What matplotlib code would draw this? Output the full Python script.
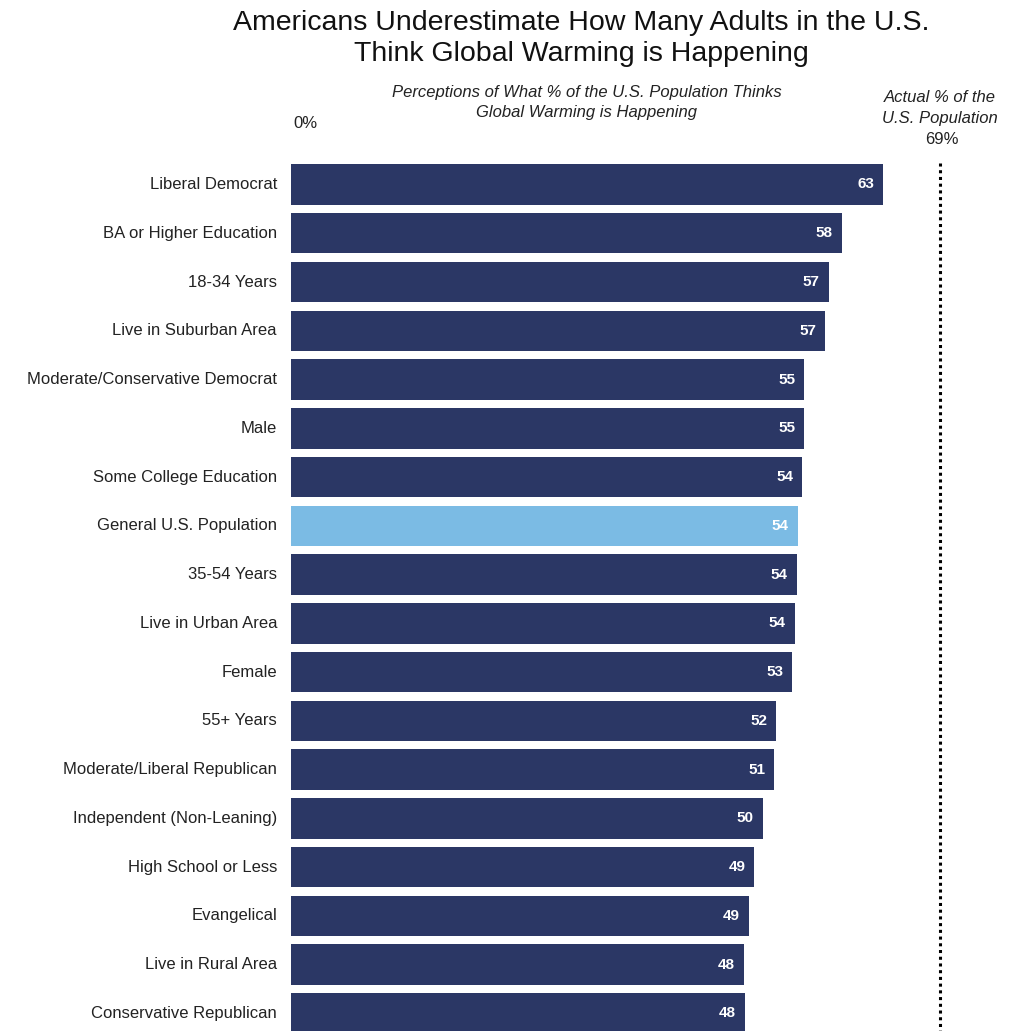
import matplotlib.pyplot as plt

categories = [
    "Liberal Democrat",
    "BA or Higher Education",
    "18-34 Years",
    "Live in Suburban Area",
    "Moderate/Conservative Democrat",
    "Male",
    "Some College Education",
    "General U.S. Population",
    "35-54 Years",
    "Live in Urban Area",
    "Female",
    "55+ Years",
    "Moderate/Liberal Republican",
    "Independent (Non-Leaning)",
    "High School or Less",
    "Evangelical",
    "Live in Rural Area",
    "Conservative Republican",
]
values = [63.0, 58.6, 57.2, 56.8, 54.6, 54.6, 54.4, 53.9, 53.8, 53.6,
          53.3, 51.6, 51.4, 50.2, 49.3, 48.7, 48.2, 48.3]
labels = [63, 58, 57, 57, 55, 55, 54, 54, 54, 54, 53, 52, 51, 50, 49, 49, 48, 48]
highlight = "General U.S. Population"
actual = 69

plt.rcParams["font.family"] = ["Liberation Sans", "DejaVu Sans"]

W, H = 1023, 1031
fig = plt.figure(figsize=(W / 100, H / 100), dpi=100)
ax = fig.add_axes([291 / W, 0, (W - 291) / W, (H - 150) / H])

navy = "#2b3765"
light = "#7bbbe4"
txt = "#222222"
colors = [light if c == highlight else navy for c in categories]
ys = list(range(len(categories)))
ax.barh(ys, values, height=0.83, color=colors)

for y, v, lab in zip(ys, values, labels):
    ax.text(v - 0.95, y, str(lab), color="white", fontsize=11, fontweight="bold",
            ha="right", va="center")

ax.set_xlim(0, (W - 291) / 9.4)
ax.set_ylim(17.36, -0.707)
ax.axis("off")

ax.plot([actual, actual], [-0.45, 17.4], color="black", linestyle=(0, (1, 1.2)),
        linewidth=2.2, clip_on=False)

for y, c in zip(ys, categories):
    fig.text(277 / W, 1 - (184.5 + 48.76 * y) / H, c, fontsize=12,
             ha="right", va="center", color=txt)


def line(x, y, s, size, **kw):
    fig.text(x / W, 1 - y / H, s, fontsize=size, ha="center", va="center",
             color=kw.pop("color", txt), **kw)


line(581, 23, "Americans Underestimate How Many Adults in the U.S.", 20.5, color="#111111")
line(581, 54, "Think Global Warming is Happening", 20.5, color="#111111")
line(587, 92, "Perceptions of What % of the U.S. Population Thinks", 12, style="italic")
line(587, 112, "Global Warming is Happening", 12, style="italic")
line(305, 123, "0%", 12)
line(940, 98, "Actual % of the", 12, style="italic")
line(940, 119, "U.S. Population", 12, style="italic")
line(942, 140, "69%", 12)

fig.savefig("out.png", dpi=100)
